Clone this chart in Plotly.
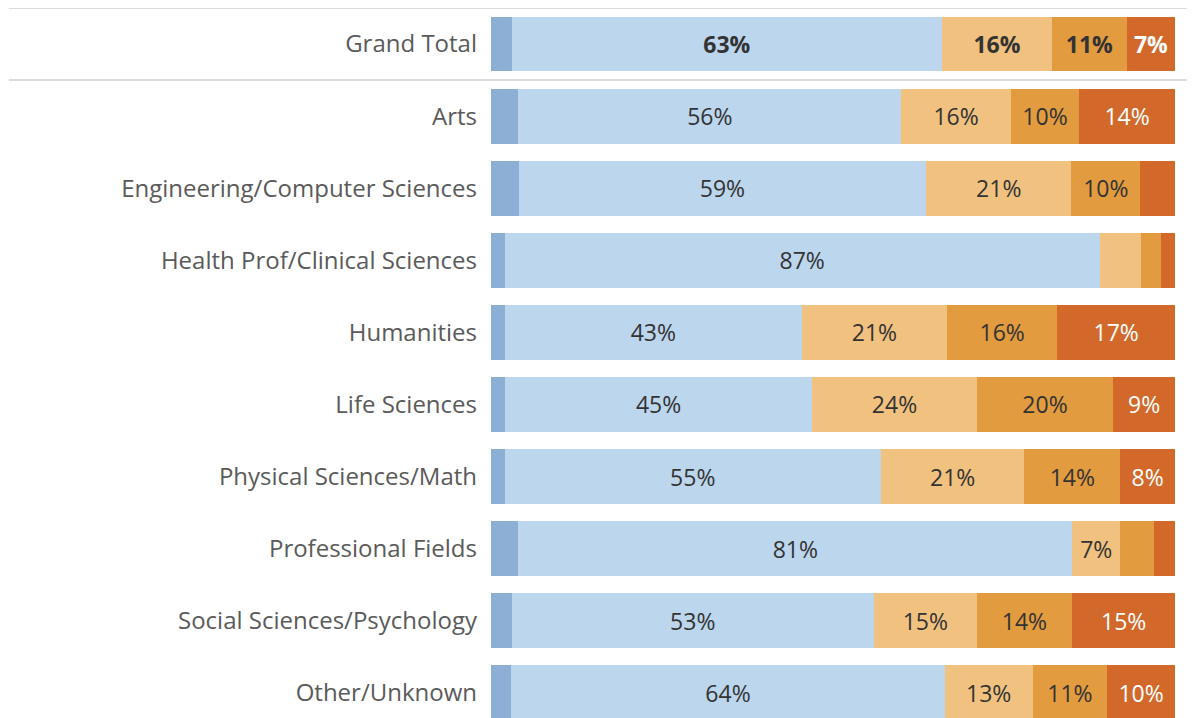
import plotly.graph_objects as go

categories = ["Grand Total", "Arts", "Engineering/Computer Sciences", "Health Prof/Clinical Sciences",
              "Humanities", "Life Sciences", "Physical Sciences/Math", "Professional Fields",
              "Social Sciences/Psychology", "Other/Unknown"]

seg_dark_blue = [3, 4, 4, 2, 2, 2, 2, 4, 3, 3]
seg_light_blue = [63, 56, 59, 87, 43, 45, 55, 81, 53, 64]
seg_light_orange = [16, 16, 21, 6, 21, 24, 21, 7, 15, 13]
seg_mid_orange = [11, 10, 10, 3, 16, 20, 14, 5, 14, 11]
seg_dark_orange = [7, 14, 5, 2, 17, 9, 8, 3, 15, 10]

series = [
    ("s1", seg_dark_blue, "#8DAFD6", None, "#333333"),
    ("s2", seg_light_blue, "#BCD6EE", 7, "#333333"),
    ("s3", seg_light_orange, "#F1C27F", 7, "#333333"),
    ("s4", seg_mid_orange, "#E39B40", 7, "#333333"),
    ("s5", seg_dark_orange, "#D2692A", 7, "#FFFFFF"),
]

fig = go.Figure()
for name, vals, color, min_lab, tcol in series:
    texts = []
    for i, v in enumerate(vals):
        if min_lab is None or v < min_lab:
            texts.append("")
        elif i == 0:
            texts.append(f"<b>{v}%</b>")
        else:
            texts.append(f"{v}%")
    fig.add_trace(go.Bar(
        y=list(range(len(categories))), x=vals, orientation="h", name=name,
        marker=dict(color=color, line=dict(width=0)),
        text=texts, textposition="inside", insidetextanchor="middle",
        textfont=dict(color=tcol, size=23, family="Open Sans"),
        constraintext="none",
        width=0.76, hoverinfo="skip", cliponaxis=False,
    ))

fig.update_layout(
    barmode="stack", barnorm="percent",
    width=1187, height=710,
    margin=dict(l=483, r=20, t=0, b=0),
    paper_bgcolor="white", plot_bgcolor="white",
    showlegend=False,
    font=dict(family="Open Sans", color="#555555"),
    xaxis=dict(range=[0, 100.01], visible=False, showgrid=False, zeroline=False),
    yaxis=dict(range=[9.35, -0.5], tickmode="array", tickvals=list(range(len(categories))),
               ticktext=categories, showgrid=False, zeroline=False, ticks="",
               tickfont=dict(size=24, color="#5A5A5A", family="Open Sans"), ticklabelstandoff=13),
)

for yv in [-0.5, 0.5]:
    fig.add_shape(type="line", xref="paper", yref="y", x0=-0.705, x1=1.03, y0=yv, y1=yv,
                  line=dict(color="#D0D0D0", width=1.5), layer="below")

fig.write_html("out.html")
